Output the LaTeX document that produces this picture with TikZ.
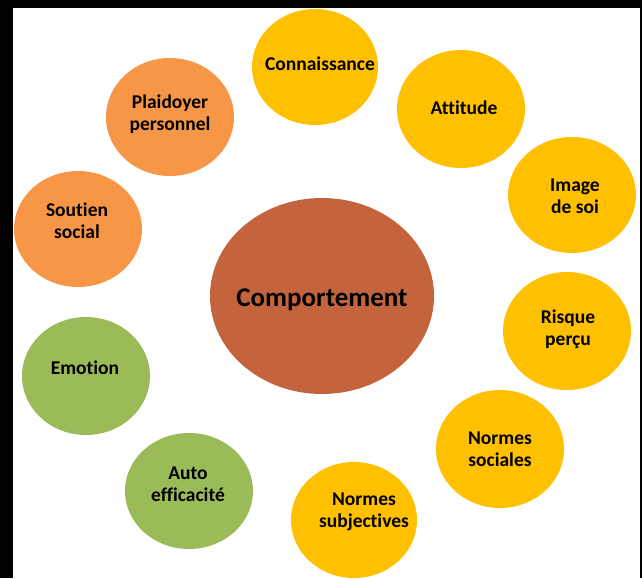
\documentclass[tikz,border=0pt]{standalone}
\usepackage{fontspec}
\setmainfont{Carlito}[RawFeature={-liga}]
\definecolor{gold}{HTML}{FFC000}
\definecolor{peach}{HTML}{F79646}
\definecolor{leaf}{HTML}{9BBB59}
\definecolor{rust}{HTML}{C4643C}
\begin{document}
\begin{tikzpicture}[x=1pt,y=-1pt,
    every node/.style={font=\bfseries\fontsize{19.5}{22}\selectfont,
                       align=center,text=black,inner sep=0}]
\fill[black] (0,0) rectangle (642,578);
\fill[white] (13,8) rectangle (640,578);
\useasboundingbox (0,0) rectangle (642,578);

% ring of factors, clockwise from the top
\fill[gold]
      (315, 67) ellipse [x radius=63,y radius=58]
      (461,109) ellipse [x radius=64,y radius=59]
      (572,195) ellipse [x radius=64,y radius=58]
      (567,331) ellipse [x radius=64,y radius=59]
      (500,449) ellipse [x radius=64,y radius=59]
      (354,520) ellipse [x radius=63,y radius=58];
\fill[leaf]
      (189,491) ellipse [x radius=64,y radius=58]
      ( 86,376) ellipse [x radius=64,y radius=59];
\fill[peach]
      ( 78,229) ellipse [x radius=64,y radius=58]
      (170,117) ellipse [x radius=64,y radius=59];
\fill[rust]
      (322,296) ellipse [x radius=112,y radius=98];

\path
      (320, 64) node (conn)  {Connaissance}
      (464,108) node (att)   {Attitude}
      (575,196) node (img)   {Image\\de soi}
      (568,329) node (risk)  {Risque\\perçu}
      (500,449) node (nsoc)  {Normes\\sociales}
      (364,512) node (nsubj) {Normes\\subjectives}
      (188,484) node (auto)  {Auto\\efficacité}
      ( 85,368) node (emo)   {Emotion}
      ( 77,221) node (sout)  {Soutien\\social}
      (170,114) node (plai)  {Plaidoyer\\personnel};
\node[font=\bfseries\fontsize{27}{30}\selectfont] (comp) at (322,300) {Comportement};
\end{tikzpicture}
\end{document}
